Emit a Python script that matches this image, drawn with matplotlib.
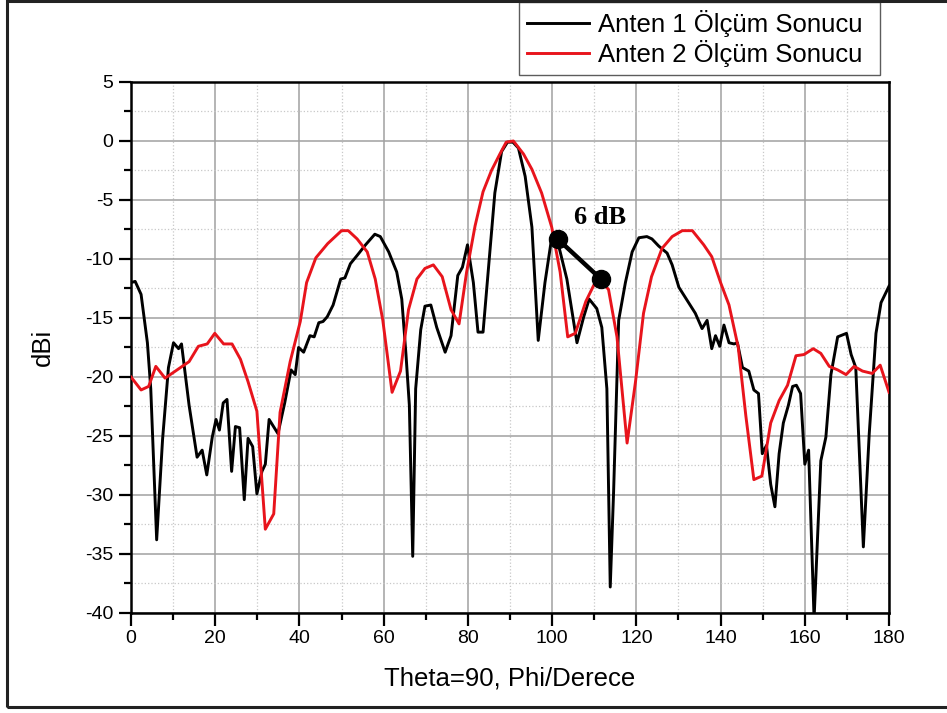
import numpy as np
import matplotlib.pyplot as plt
from matplotlib.ticker import MultipleLocator
from matplotlib.patches import Rectangle

# Anten 1 (siyah)
phi1 = [0, 1.0, 2.4, 3.9, 4.7, 6.1, 7.5, 8.9, 10.1, 11.3, 12.0, 13.8, 15.7, 16.9, 18.0,
        19.3, 20.2, 21.0, 21.9, 22.8, 23.9, 24.8, 25.8, 26.9, 27.8, 28.9, 29.9, 31.1,
        31.9, 32.8, 34.9, 36.5, 38.0, 39.0, 39.8, 41.0, 42.5, 43.5, 44.6, 45.6, 46.6,
        48.0, 49.8, 50.8, 52.1, 53.7, 55.7, 57.9, 59.2, 61.2, 63.1, 64.3, 65.3, 66.1,
        66.9, 67.6, 68.8, 69.8, 71.2, 72.6, 74.6, 76.0, 77.6, 78.7, 79.9, 81.3, 82.4,
        83.6, 84.8, 86.4, 88.0, 89.4, 90.7, 92.0, 93.6, 95.2, 96.7, 98.3, 99.9, 101.5,
        103.5, 105.9, 107.5, 108.8, 110.6, 111.8, 113.0, 113.8, 114.6, 115.8, 117.4,
        119.0, 120.6, 122.5, 123.7, 125.3, 127.3, 128.5, 130.1, 131.7, 133.3, 134.0,
        135.6, 136.8, 137.9, 138.8, 139.8, 140.8, 142.0, 143.2, 144.0, 145.2, 146.7,
        147.9, 149.0, 149.9, 150.9, 151.9, 152.9, 153.9, 154.9, 156.1, 157.1, 158.0,
        159.0, 160.0, 160.9, 162.2, 163.8, 165.0, 166.2, 167.8, 169.9, 171.0, 172.1,
        173.9, 175.3, 176.9, 178.1, 180]
g1 = [-12.0, -11.9, -13.0, -17.1, -21.0, -33.8, -25.3, -19.2, -17.1, -17.6, -17.2, -22.4,
      -26.8, -26.2, -28.3, -25.1, -23.6, -24.5, -22.2, -21.9, -28.0, -24.2, -24.3, -30.4,
      -25.2, -25.9, -29.9, -28.0, -27.4, -23.6, -24.8, -22.2, -19.4, -19.8, -17.5, -17.9,
      -16.5, -16.6, -15.4, -15.3, -14.9, -13.9, -11.7, -11.6, -10.4, -9.7, -8.8, -7.9,
      -8.1, -9.4, -11.1, -13.4, -18.1, -22.4, -35.2, -21.0, -16.0, -14.0, -13.9, -15.8,
      -17.9, -16.5, -11.4, -10.7, -8.8, -12.0, -16.2, -16.2, -11.1, -4.4, -0.9, -0.1,
      -0.1, -0.6, -3.0, -7.3, -16.9, -12.0, -8.2, -8.8, -11.7, -17.1, -14.9, -13.4,
      -14.2, -15.8, -21.0, -37.8, -29.7, -15.2, -12.0, -9.4, -8.2, -8.1, -8.3, -8.9,
      -9.5, -10.5, -12.4, -13.3, -14.2, -14.6, -15.9, -15.2, -17.6, -16.5, -17.4, -15.6,
      -17.1, -17.2, -17.1, -19.2, -19.5, -21.1, -21.4, -26.5, -25.8, -29.1, -31.0,
      -26.5, -23.9, -22.4, -20.8, -20.7, -21.4, -27.4, -26.2, -40.5, -27.1, -25.1,
      -19.8, -16.6, -16.3, -18.1, -19.2, -34.4, -24.8, -16.3, -13.7, -12.3]

# Anten 2 (kirmizi)
phi2 = [0, 2.4, 4.2, 5.9, 8.1, 13.8, 16.0, 18.1, 19.9, 22.0, 24.0, 26.0, 27.8, 29.9,
        31.9, 33.9, 35.4, 37.8, 40.2, 41.7, 43.9, 46.7, 50.0, 51.6, 53.7, 56.1, 58.0,
        59.8, 62.0, 64.0, 65.9, 67.9, 69.8, 71.8, 73.9, 76.0, 77.9, 79.7, 81.7, 83.6,
        85.6, 87.6, 89.1, 90.8, 93.2, 95.2, 97.5, 99.9, 101.9, 103.7, 105.5, 108.0,
        110.2, 111.4, 113.4, 115.4, 117.8, 119.8, 121.7, 123.6, 126.1, 128.5, 130.9,
        133.3, 136.0, 137.9, 140.0, 142.0, 144.2, 146.0, 147.9, 149.8, 151.9, 153.9,
        155.9, 157.9, 159.8, 162.0, 163.8, 165.8, 167.8, 169.8, 171.7, 173.7, 176.0,
        177.9, 180]
g2 = [-20.0, -21.1, -20.8, -19.1, -20.1, -18.7, -17.4, -17.2, -16.3, -17.2, -17.2, -18.5,
      -20.4, -22.9, -32.9, -31.6, -23.0, -18.7, -15.3, -12.0, -9.9, -8.7, -7.6, -7.6,
      -8.3, -9.4, -11.7, -15.2, -21.3, -19.5, -14.3, -11.7, -10.8, -10.5, -11.5, -14.3,
      -15.5, -11.1, -7.2, -4.3, -2.5, -1.1, -0.1, 0.0, -1.1, -2.4, -4.4, -7.3, -11.1,
      -16.6, -16.3, -13.6, -12.0, -11.7, -12.6, -16.6, -25.6, -20.4, -14.6, -11.5, -9.1,
      -8.1, -7.6, -7.6, -8.8, -9.8, -12.0, -13.9, -17.5, -23.3, -28.7, -28.4, -23.9,
      -22.0, -20.7, -18.2, -18.1, -17.6, -18.0, -19.1, -19.4, -19.8, -19.1, -19.5,
      -19.7, -19.0, -21.3]

# 6 dB isareti
mark_x = [101.3, 111.6]
mark_y = [-8.3, -11.7]

plt.rcParams['font.family'] = ['Liberation Sans', 'DejaVu Sans']
plt.rcParams['axes.unicode_minus'] = False

fig = plt.figure(figsize=(9.47, 7.13), dpi=100)
ax = fig.add_axes([0.1383, 0.1403, 0.8005, 0.7447])

ax.plot(phi1, g1, color='black', lw=2.1, label='Anten 1 Ölçüm Sonucu', zorder=3)
ax.plot(phi2, g2, color='#e8141c', lw=2.1, label='Anten 2 Ölçüm Sonucu', zorder=3)
ax.plot(mark_x, mark_y, color='black', lw=3.2, marker='o', ms=13, zorder=4)
ax.text(111.5, -6.5, '6 dB', family='Liberation Serif', fontweight='bold',
        fontsize=19, ha='center', va='center')

ax.set_xlim(0, 180)
ax.set_ylim(-40, 5)
ax.xaxis.set_major_locator(MultipleLocator(20))
ax.xaxis.set_minor_locator(MultipleLocator(10))
ax.yaxis.set_major_locator(MultipleLocator(5))
ax.yaxis.set_minor_locator(MultipleLocator(2.5))
ax.grid(which='major', color='#a0a0a0', lw=1.1, ls='-')
ax.grid(which='minor', color='#c8c8c8', lw=0.9, ls=':')
ax.set_axisbelow(True)
ax.tick_params(which='major', direction='out', length=9, width=1.6, labelsize=14)
ax.tick_params(which='minor', direction='out', length=5, width=1.6)
for s in ax.spines.values():
    s.set_linewidth(1.8)

ax.set_xlabel('Theta=90, Phi/Derece', fontsize=18.5, labelpad=14)
ax.set_ylabel('dBi', fontsize=18.5, labelpad=22)

leg = ax.legend(loc='upper left', bbox_to_anchor=(0.5125, 1.0188, 0.476, 0.132),
                mode='expand', fontsize=18.5, frameon=True, fancybox=False,
                handlelength=2.4, handletextpad=0.35, borderaxespad=0,
                labelspacing=0.15, borderpad=0.3)
leg.get_frame().set_edgecolor('#333333')
leg.get_frame().set_linewidth(1.0)

# dis cerceve
fig.patches.append(Rectangle((0.0075, 0.008), 1.2, 0.99, transform=fig.transFigure,
                             fill=False, edgecolor='#222222', lw=2.2, zorder=0))

fig.savefig('out.png', dpi=100)
